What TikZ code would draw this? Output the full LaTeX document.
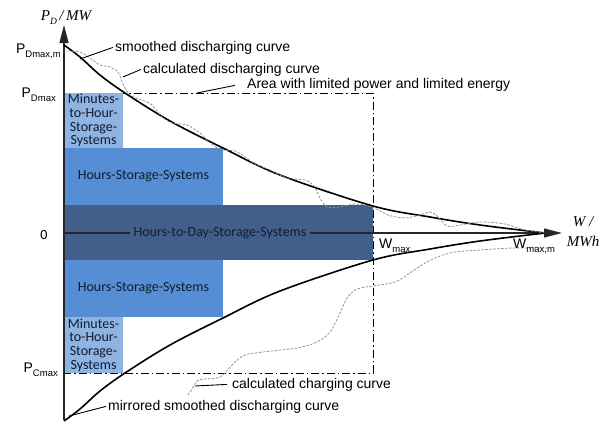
\documentclass[tikz,border=0pt]{standalone}
\usepackage{fontspec}
\setmainfont{Liberation Sans}
\newfontfamily\calfont{Carlito}
\newfontfamily\axisfont{Liberation Serif}
\usetikzlibrary{arrows.meta}

\definecolor{lightbar}{RGB}{142,180,227}
\definecolor{midbar}{RGB}{85,142,213}
\definecolor{darkbar}{RGB}{65,95,138}
\definecolor{bartext}{RGB}{20,28,45}
\definecolor{calcgray}{RGB}{140,140,140}

% lowered index for axis and tick labels
\newcommand\lowidx[1]{\raisebox{-0.3em}{\fontsize{9.5}{10}\selectfont #1}}

\begin{document}
\begin{tikzpicture}[x=1pt,y=-1pt,
  lbl/.style={font=\fontsize{14}{16}\selectfont, inner sep=0pt, anchor=base west},
  ticklbl/.style={font=\fontsize{14}{16}\selectfont, inner sep=0pt, anchor=base east},
  bartxt/.style={font=\calfont\fontsize{14}{13.7}\selectfont, text=bartext, align=center, inner sep=0pt},
  bar/.style={bartxt, draw=none},
  smoothcurve/.style={line width=1.6pt, black},
  calccurve/.style={calcgray, line width=0.75pt, dash pattern=on 2.5pt off 1.5pt},
  leader/.style={line width=0.9pt, black},
  limitbox/.style={line width=1pt, dash pattern=on 8pt off 3pt on 1.5pt off 3pt},
  axisline/.style={line width=1.3pt, black!85},
  axistip/.style={-{Triangle[length=18pt,width=9pt]}}
]
\useasboundingbox (0,0) rectangle (601,423);

% area with limited power and limited energy
\draw[limitbox] (64,93) rectangle (373,373);

% storage bars
\node[bar, fill=darkbar, minimum width=309pt, minimum height=55pt] (hd) at (218.5,232.5) {};
\node[bar, fill=lightbar, minimum width=59pt, minimum height=55pt] (mt) at (93.5,120.5)
  {Minutes-\\to-Hour-\\Storage-\\Systems};
\node[bar, fill=midbar, minimum width=159pt, minimum height=57pt] (ht) at (143.5,176.5)
  {Hours-Storage-Systems};
\node[bar, fill=midbar, minimum width=159pt, minimum height=57pt] (hb) at (143.5,288.5)
  {Hours-Storage-Systems};
\node[bar, fill=lightbar, minimum width=59pt, minimum height=56pt] (mb) at (93.5,345)
  {Minutes-\\to-Hour-\\Storage-\\Systems};

% axes
\coordinate (ybot) at (64,420);
\coordinate (ytop) at (64,25);
\coordinate (O) at (64,233);
\coordinate (xend) at (562,233);
\draw[axisline, axistip] (ybot) -- (ytop);
\draw[axisline, axistip] (O) -- (xend);

\node[bartxt, fill=darkbar, inner xsep=4pt, inner ysep=2pt] (hdtxt) at (220,233)
  {Hours-to-Day-Storage-Systems};

% smoothed and mirrored discharging curves
\draw[smoothcurve] plot[smooth, tension=0.55] coordinates {
  (64,45) (80,57) (100,75) (125,93) (170,121) (223,148) (280,175)
  (373,206) (430,217) (480,225) (545,233)};
\draw[smoothcurve] plot[smooth, tension=0.55] coordinates {
  (64,421) (80,409) (100,391) (125,373) (170,345) (223,318) (280,291)
  (373,260) (430,249) (480,241) (545,233)};

% calculated discharging curve
\draw[calccurve] plot[smooth, tension=0.5] coordinates {
  (64,51) (80,52) (90,58) (100,65) (110,67) (118,72) (123,84) (130,95)
  (142,100) (152,105) (162,117) (172,123) (187,125) (200,133) (210,143)
  (222,150) (235,151) (245,157) (255,164) (270,170) (287,178) (305,180)
  (314,186) (320,198) (327,207) (340,207) (355,204) (372,207) (388,215)
  (405,218) (420,215) (430,212) (437,216) (447,226) (460,225) (480,222)
  (505,224) (525,230) (545,233)};

% calculated charging curve
\draw[calccurve] plot[smooth, tension=0.5] coordinates {
  (188,395) (194,386) (197,381) (204,379) (220,377) (233,364) (245,355)
  (263,352) (297,348) (317,342) (330,332) (340,313) (347,298) (357,289)
  (373,286) (395,282) (410,273) (425,263) (440,256) (455,252) (480,250)
  (513,248) (550,248)};

% axis labels
\node[font=\axisfont\itshape\fontsize{15}{16}\selectfont, inner sep=0pt, anchor=base] (ylab)
  at (66,20) {P\lowidx{D}\,/\,MW};
\node[font=\axisfont\itshape\fontsize{15}{20}\selectfont, inner sep=0pt, anchor=north, align=center] (xlab)
  at (583,216) {W /\\MWh};

% tick labels
\node[ticklbl] (pdmm) at (61,53) {P\lowidx{Dmax,m}};
\node[ticklbl] (pdm) at (56,97) {P\lowidx{Dmax}};
\node[ticklbl] (pcm) at (58,372) {P\lowidx{Cmax}};
\node[font=\calfont\fontsize{14}{16}\selectfont, inner sep=0pt, anchor=base] (zero) at (44,239) {0};
\node[lbl] (wmax) at (379,248) {W\lowidx{max}};
\node[lbl] (wmaxm) at (513,248) {W\lowidx{max,m}};

% curve annotations
\node[lbl] (tsm) at (115,51) {smoothed discharging curve};
\node[lbl] (tcd) at (143,73) {calculated discharging curve};
\node[lbl] (tarea) at (247,88) {Area with limited power and limited energy};
\node[lbl] (tcc) at (232,388) {calculated charging curve};
\node[lbl] (tmi) at (108,410) {mirrored smoothed discharging curve};

\coordinate (psm) at (80,59);
\coordinate (pcd) at (123,77);
\coordinate (parea) at (197,93);
\coordinate (pcc) at (195,386);
\coordinate (pmi) at (69,416);
\draw[leader] (psm) -- ([xshift=-2pt]tsm.west);
\draw[leader] (pcd) -- ([xshift=-2pt]tcd.west);
\draw[leader] (parea) -- ([xshift=-12pt,yshift=-1pt]tarea.west);
\draw[leader] (pcc) -- ([xshift=-5pt]tcc.west);
\draw[leader] (pmi) -- ([xshift=-2pt]tmi.west);
\end{tikzpicture}
\end{document}
